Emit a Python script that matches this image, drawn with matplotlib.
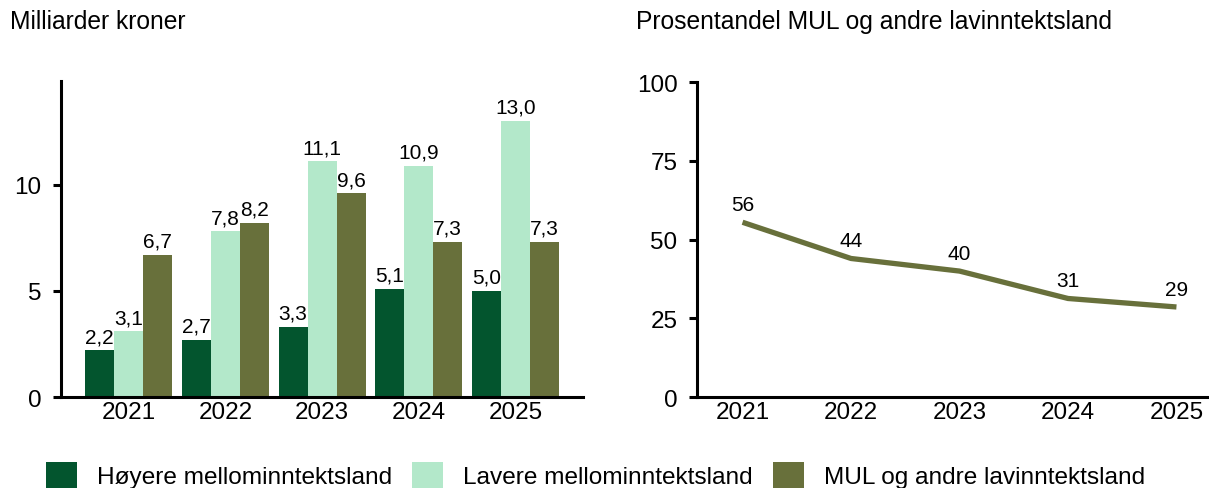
import numpy as np
import matplotlib
matplotlib.use('Agg')
import matplotlib.pyplot as plt
from matplotlib.patches import Patch

plt.rcParams['font.family'] = ['Liberation Sans', 'DejaVu Sans']

# data
years = ['2021', '2022', '2023', '2024', '2025']
series_names = ['Høyere mellominntektsland', 'Lavere mellominntektsland', 'MUL og andre lavinntektsland']
hoyere = [2.2, 2.7, 3.3, 5.1, 5.0]
lavere = [3.1, 7.8, 11.1, 10.9, 13.0]
mul = [6.7, 8.2, 9.6, 7.3, 7.3]
andel_mul = [55.5, 44.0, 40.0, 31.3, 28.6]
andel_labels = ['56', '44', '40', '31', '29']

colors = ['#03552e', '#b3e8ca', '#68703b']

fig = plt.figure(figsize=(12.09, 4.89), dpi=100)
ax1 = fig.add_axes([0.0505, 0.186, 0.4318, 0.647])
ax2 = fig.add_axes([0.5765, 0.186, 0.4235, 0.644])

# left: bars
x = np.arange(len(years))
w = 0.3
for i, (vals, c) in enumerate(zip([hoyere, lavere, mul], colors)):
    pos = x + (i - 1) * w
    ax1.bar(pos, vals, width=w, color=c, linewidth=0)
    for p, v in zip(pos, vals):
        ax1.annotate(('%.1f' % v).replace('.', ','), (p, v), xytext=(0, 3),
                     textcoords='offset points', ha='center', va='bottom', fontsize=15)

ax1.set_xlim(-0.7, 4.7)
ax1.set_ylim(0, 14.9)
ax1.set_yticks([0, 5, 10])
ax1.set_xticks(x)
ax1.set_xticklabels(years)

# right: line
ax2.plot(x, andel_mul, color=colors[2], linewidth=3.8, solid_capstyle='butt')
for xi, v, lab in zip(x, andel_mul, andel_labels):
    ax2.annotate(lab, (xi, v), xytext=(0, 6), textcoords='offset points',
                 ha='center', va='bottom', fontsize=15)
ax2.set_xlim(-0.42, 4.3)
ax2.set_ylim(0, 100)
ax2.set_yticks([0, 25, 50, 75, 100])
ax2.set_xticks(x)
ax2.set_xticklabels(years)

for ax in (ax1, ax2):
    for s in ['top', 'right']:
        ax.spines[s].set_visible(False)
    for s in ['left', 'bottom']:
        ax.spines[s].set_linewidth(2.2)
    ax.tick_params(axis='y', length=6, width=2.2, labelsize=17.5, pad=8)
    ax.tick_params(axis='x', length=0, labelsize=17.5, pad=3)

fig.text(10 / 1209, 1 - 22 / 489, 'Milliarder kroner', fontsize=17.7, va='center', ha='left')
fig.text(636 / 1209, 1 - 22 / 489, 'Prosentandel MUL og andre lavinntektsland', fontsize=17.7,
         va='center', ha='left')

handles = [Patch(facecolor=c, edgecolor='none') for c in colors]
fig.legend(handles, series_names, loc='center left', bbox_to_anchor=(46 / 1209, 1 - 476 / 489),
           ncol=3, frameon=False, fontsize=17.6, handlelength=1.27, handleheight=1.27,
           handletextpad=0.82, columnspacing=0.82, borderpad=0, borderaxespad=0)

fig.savefig('out.png', dpi=100)
